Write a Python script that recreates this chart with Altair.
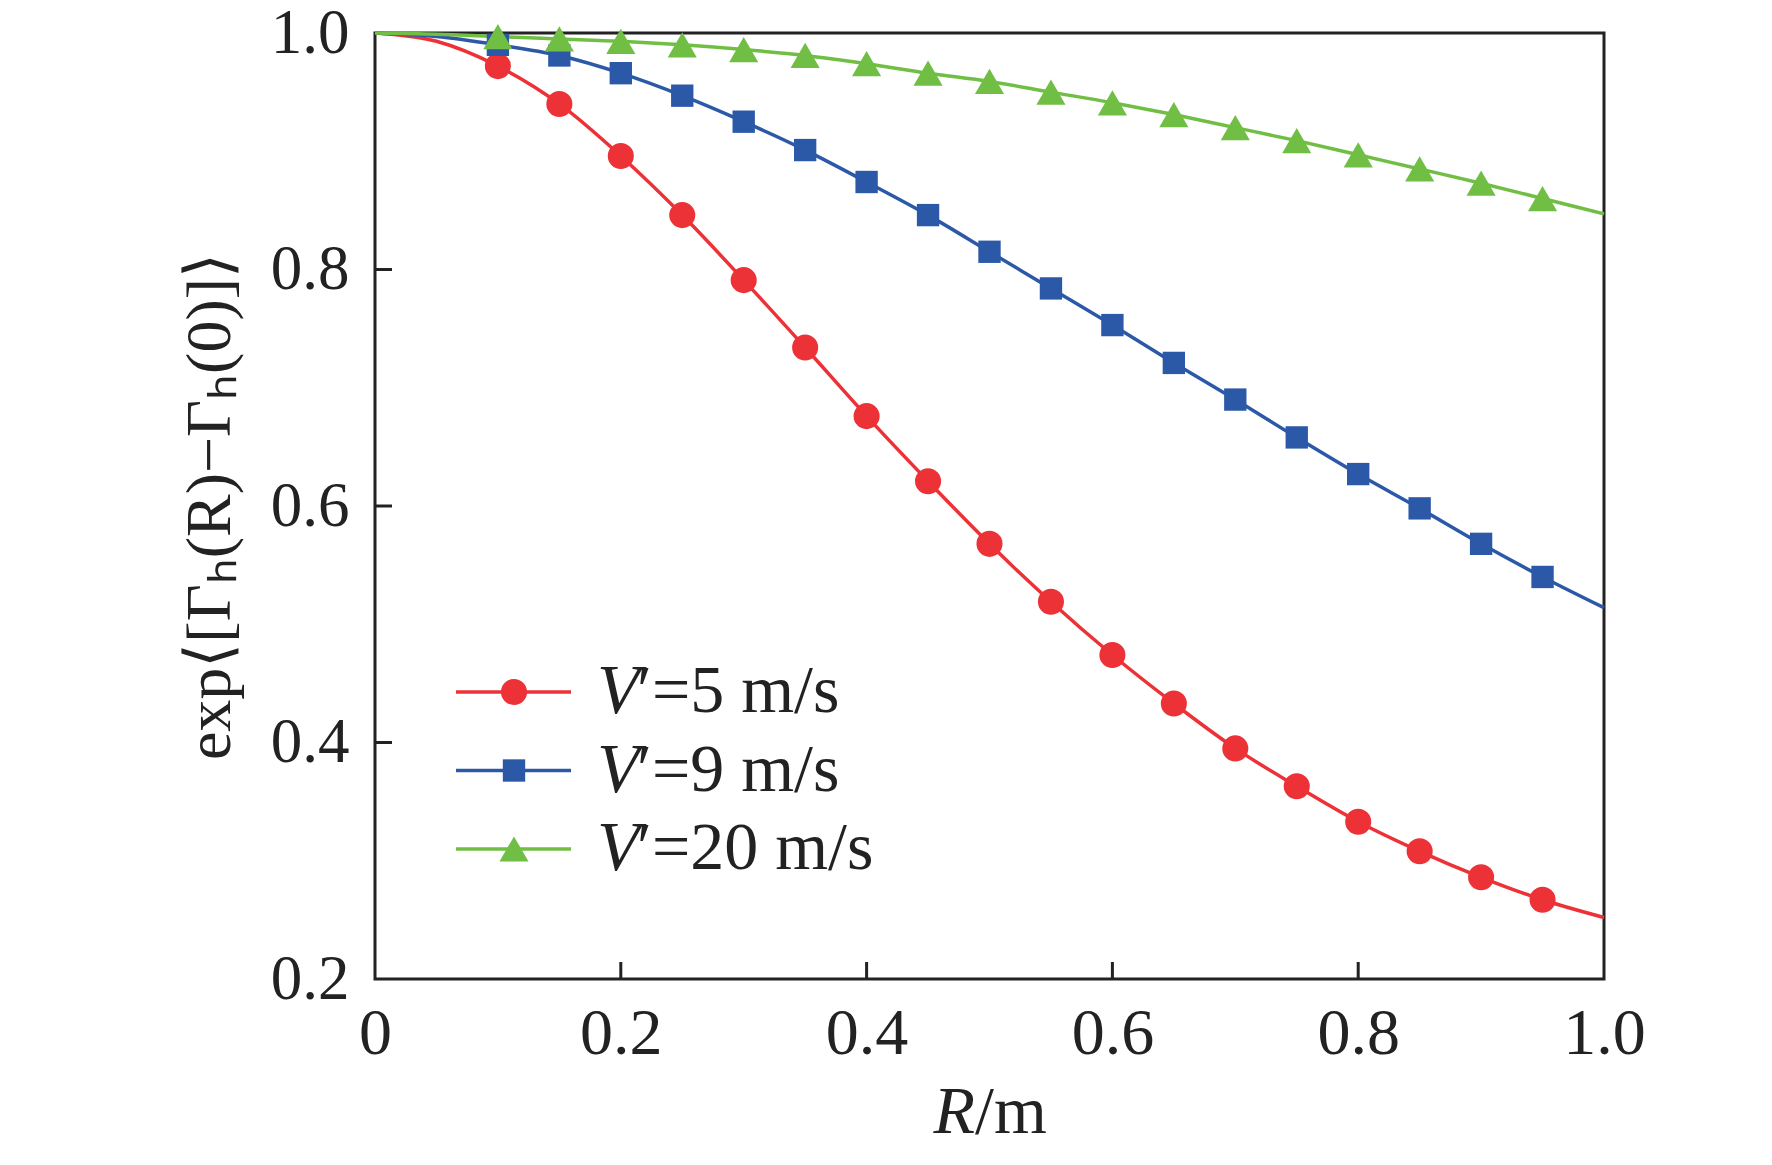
import altair as alt
import pandas as pd

# ---- data ----
R_line = [0.00, 0.05, 0.10, 0.15, 0.20, 0.25, 0.30, 0.35, 0.40, 0.45, 0.50,
          0.55, 0.60, 0.65, 0.70, 0.75, 0.80, 0.85, 0.90, 0.95, 1.00]
v5_line = [1.000, 0.993, 0.972, 0.940, 0.896, 0.846, 0.791, 0.734, 0.676, 0.621, 0.568,
           0.519, 0.474, 0.433, 0.395, 0.363, 0.333, 0.308, 0.286, 0.267, 0.252]
v9_line = [1.000, 0.997, 0.990, 0.981, 0.966, 0.947, 0.925, 0.901, 0.874, 0.846, 0.815,
           0.784, 0.753, 0.721, 0.690, 0.658, 0.627, 0.598, 0.568, 0.540, 0.514]
v20_line = [1.000, 0.999, 0.997, 0.995, 0.993, 0.990, 0.986, 0.981, 0.974, 0.966, 0.959,
            0.950, 0.941, 0.931, 0.920, 0.909, 0.897, 0.885, 0.873, 0.860, 0.847]
marker_from, marker_to = 2, 20  # markers drawn at R = 0.10 ... 0.95

series = ["5", "9", "20"]
legend_sym = ["V", "V", "V"]
legend_rest = ["′=5 m/s", "′=9 m/s", "′=20 m/s"]
colors = ["#ED3237", "#2B59A8", "#70BF44"]
shapes = ["circle", "square", "triangle-up"]
sizes = [680, 500, 850]

x_ticks = [0.2, 0.4, 0.6, 0.8]
y_ticks = [0.4, 0.6, 0.8]
x_labels = [0, 0.2, 0.4, 0.6, 0.8, 1.0]
y_labels = [0.2, 0.4, 0.6, 0.8, 1.0]

x_title_italic = ["R"]
x_title_rest = ["/m"]
y_title = "exp⟨[Γₕ(R)−Γₕ(0)]⟩"

W, H = 1229, 946
FONT = "Liberation Serif"
INK = "#222222"

rows = []
for name, vals in zip(series, [v5_line, v9_line, v20_line]):
    for i, (r, v) in enumerate(zip(R_line, vals)):
        rows.append({"R": r, "val": v, "series": name,
                     "marker": marker_from <= i < marker_to})
df = pd.DataFrame(rows)
leg = pd.DataFrame({"series": series, "sym": legend_sym, "rest": legend_rest})

color_enc = alt.Color("series:N", scale=alt.Scale(domain=series, range=colors), legend=None)
shape_enc = alt.Shape("series:N", scale=alt.Scale(domain=series, range=shapes), legend=None)
size_enc = alt.Size("series:N", scale=alt.Scale(type="ordinal", domain=series, range=sizes),
                    legend=None)

x_enc = alt.X("R:Q", scale=alt.Scale(domain=[0, 1], nice=False, zero=False),
              axis=alt.Axis(values=x_labels, title=None, grid=False, ticks=False,
                            domain=False, labelExpr="datum.value == 0 ? '0' : format(datum.value, '.1f')",
                            labelFont=FONT, labelFontSize=66, labelColor=INK,
                            labelPadding=22, labelFlush=False))
y_enc = alt.Y("val:Q", scale=alt.Scale(domain=[0.2, 1.0], nice=False, zero=False),
              axis=alt.Axis(values=y_labels, title=y_title, grid=False, ticks=False,
                            domain=False, format=".1f", labelFont=FONT, labelFontSize=63,
                            labelColor=INK, labelPadding=26, titleFont=FONT,
                            titleFontSize=64, titleFontWeight="normal", titleColor=INK,
                            titlePadding=28, labelFlush=False))

base = alt.Chart(df)
lines = base.mark_line(strokeWidth=3.5, interpolate="monotone").encode(
    x=x_enc, y=y_enc, color=color_enc, detail="series:N")
points = base.transform_filter("datum.marker").mark_point(filled=True, opacity=1).encode(
    x="R:Q", y="val:Q", color=color_enc, shape=shape_enc, size=size_enc)

xt = alt.Chart(pd.DataFrame({"t": x_ticks})).mark_rule(color=INK, strokeWidth=3).encode(
    x="t:Q", y=alt.value(H), y2=alt.value(H - 17))
yt = alt.Chart(pd.DataFrame({"t": y_ticks})).mark_rule(color=INK, strokeWidth=3).encode(
    y="t:Q", x=alt.value(0), x2=alt.value(17))

main = alt.layer(lines, points, xt, yt)

leg_y = alt.Y("series:N", scale=alt.Scale(type="point", domain=series, range=[659, 816],
                                          padding=0), axis=None)
lb = alt.Chart(leg)
leg_rule = lb.mark_rule(strokeWidth=3.5).encode(
    x=alt.value(81), x2=alt.value(196), y=leg_y, color=color_enc)
leg_pt = lb.mark_point(filled=True, opacity=1).encode(
    x=alt.value(139), y=leg_y, color=color_enc, shape=shape_enc, size=size_enc)
leg_v = lb.mark_text(align="left", baseline="middle", font=FONT, fontSize=70,
                     fontStyle="italic", color=INK).encode(
    x=alt.value(222), y=leg_y, text="sym:N")
leg_t = lb.mark_text(align="left", baseline="middle", font=FONT, fontSize=68,
                     color=INK).encode(
    x=alt.value(262), y=leg_y, text="rest:N")

xtitle_df = pd.DataFrame({"a": x_title_italic, "b": x_title_rest})
xt_a = alt.Chart(xtitle_df).mark_text(align="right", baseline="middle", font=FONT,
                                      fontSize=68, fontStyle="italic", color=INK).encode(
    x=alt.value(600), y=alt.value(1080), text="a:N")
xt_b = alt.Chart(xtitle_df).mark_text(align="left", baseline="middle", font=FONT,
                                      fontSize=68, color=INK).encode(
    x=alt.value(600), y=alt.value(1080), text="b:N")

overlay = alt.layer(leg_rule, leg_pt, leg_v, leg_t, xt_a, xt_b)

chart = alt.layer(main, overlay).resolve_scale(y="independent").properties(
    width=W, height=H,
    autosize=alt.AutoSizeParams(type="none"),
    padding={"left": 367, "top": 25, "right": 120, "bottom": 170},
).configure(background="white").configure_view(stroke=INK, strokeWidth=3)

chart.save("out.html", embed_options={"renderer": "svg", "actions": False})
